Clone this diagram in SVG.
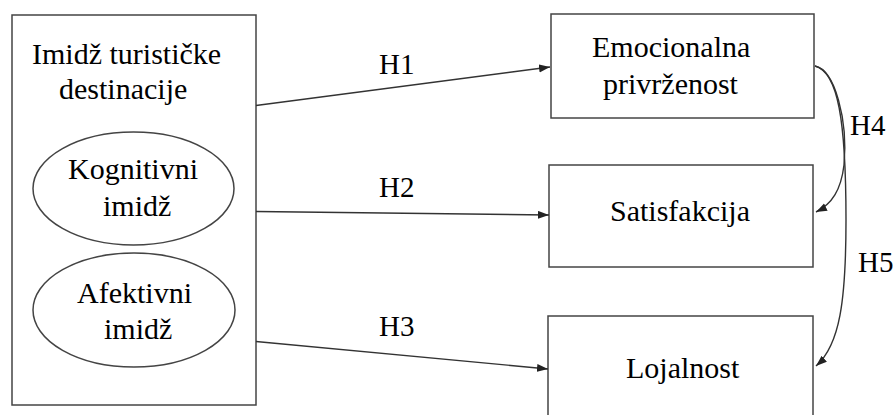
<svg xmlns="http://www.w3.org/2000/svg" width="896" height="415" viewBox="0 0 896 415">
<defs>
<marker id="ah" markerUnits="userSpaceOnUse" markerWidth="12" markerHeight="10" refX="11" refY="4" orient="auto">
<path d="M0,0 L11,4 L0,8 Z" fill="#222"/>
</marker>
</defs>
<rect width="896" height="415" fill="#fff"/>
<g id="imidz">
<rect x="12" y="15" width="244" height="390" fill="#fff" stroke="#444" stroke-width="1.5"/>
<text x="32" y="64" font-size="30" style="font-family:'Liberation Serif'">Imidž turističke</text>
<text x="59" y="99" font-size="30" style="font-family:'Liberation Serif'">destinacije</text>
</g>
<g id="kognitivni">
<ellipse cx="133.5" cy="188.5" rx="100.5" ry="56.5" fill="#fff" stroke="#444" stroke-width="1.5"/>
<text x="68" y="179" font-size="30" style="font-family:'Liberation Serif'">Kognitivni</text>
<text x="103" y="216" font-size="30" style="font-family:'Liberation Serif'">imidž</text>
</g>
<g id="afektivni">
<ellipse cx="134" cy="310" rx="101" ry="57" fill="#fff" stroke="#444" stroke-width="1.5"/>
<text x="77" y="303" font-size="30" style="font-family:'Liberation Serif'">Afektivni</text>
<text x="104" y="339" font-size="30" style="font-family:'Liberation Serif'">imidž</text>
</g>
<g id="emocionalna">
<rect x="551" y="14" width="263" height="104" fill="#fff" stroke="#444" stroke-width="1.5"/>
<text x="592" y="57" font-size="30" style="font-family:'Liberation Serif'">Emocionalna</text>
<text x="603" y="94" font-size="30" style="font-family:'Liberation Serif'">privrženost</text>
</g>
<g id="satisfakcija">
<rect x="549" y="165" width="264" height="102" fill="#fff" stroke="#444" stroke-width="1.5"/>
<text x="610" y="221" font-size="30" style="font-family:'Liberation Serif'">Satisfakcija</text>
</g>
<g id="lojalnost">
<rect x="548" y="316" width="265" height="110" fill="#fff" stroke="#444" stroke-width="1.5"/>
<text x="626" y="378" font-size="30" style="font-family:'Liberation Serif'">Lojalnost</text>
</g>
<g id="connectors" fill="none" stroke="#333" stroke-width="1.4">
<path d="M256,105.5 L550,67" marker-end="url(#ah)"/>
<path d="M256,211.5 L549,215" marker-end="url(#ah)"/>
<path d="M256,341.5 L548,369" marker-end="url(#ah)"/>
<path d="M815,66 C835,70 848,120 844,165 C841,190 832,204 816,212" marker-end="url(#ah)"/>
<path d="M815,66 C838,72 846,120 846,220 C846,300 840,345 816,366" marker-end="url(#ah)"/>
</g>
<g id="labels">
<text x="379" y="74" font-size="29" style="font-family:'Liberation Serif'">H1</text>
<text x="379" y="197" font-size="29" style="font-family:'Liberation Serif'">H2</text>
<text x="379" y="336" font-size="29" style="font-family:'Liberation Serif'">H3</text>
<text x="850" y="135" font-size="29" style="font-family:'Liberation Serif'">H4</text>
<text x="858" y="272" font-size="29" style="font-family:'Liberation Serif'">H5</text>
</g>
</svg>
